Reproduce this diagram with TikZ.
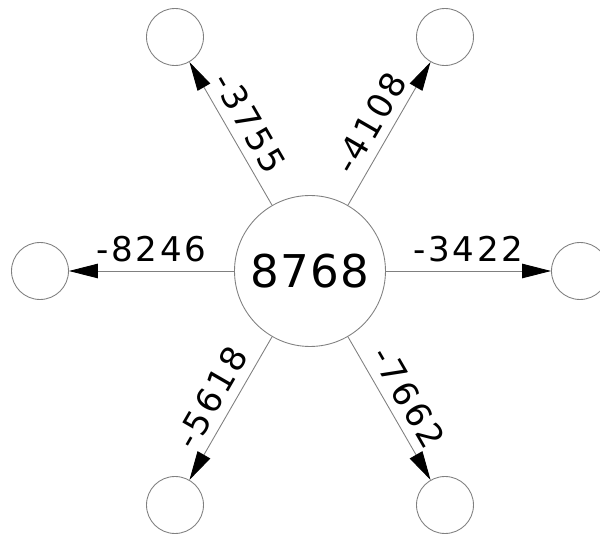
\documentclass[tikz,border=0pt]{standalone}
\usepackage{fontspec}
\setmainfont{DejaVu Sans}
\newfontfamily\hubfont[LetterSpace=3]{DejaVu Sans}
\newfontfamily\wtfont[LetterSpace=8]{DejaVu Sans}
\usetikzlibrary{
    arrows.meta,
    positioning
}
\tikzset{hubc/.style={circle, draw=gray, line width=0.5pt, minimum size=3.02cm, inner sep=0pt, font=\hubfont\fontsize{25.7pt}{30pt}\selectfont}}
\tikzset{leafc/.style={circle, draw=gray, line width=0.5pt, minimum size=1.14cm, inner sep=0pt}}
\tikzset{wt/.style={draw=gray, line width=0.5pt, -{Triangle[length=0.58cm, width=0.29cm, color=black]}}}
\tikzset{wl/.style={midway, sloped, above, inner sep=5pt, font=\wtfont\fontsize{19.4pt}{23pt}\selectfont}}

\begin{document}
\begin{tikzpicture}[x=0.02cm, y=0.02cm]
                        \useasboundingbox (-310, -263) rectangle (290, 271);
                        \node[hubc] (hub) at (0, 0) {8768};
                        \node[leafc] (nn0) at (-135, 234) {};
                        \node[leafc] (nn1) at (135, 234) {};
                        \node[leafc] (nn2) at (270, 0) {};
                        \node[leafc] (nn3) at (135, -234) {};
                        \node[leafc] (nn4) at (-135, -234) {};
                        \node[leafc] (nn5) at (-270, 0) {};

                        \draw
                        (hub) edge[wt] node[wl] {-3755} (nn0)
                        (hub) edge[wt] node[wl] {-4108} (nn1)
                        (hub) edge[wt] node[wl] {-3422} (nn2)
                        (hub) edge[wt] node[wl] {-7662} (nn3)
                        (hub) edge[wt] node[wl] {-5618} (nn4)
                        (hub) edge[wt] node[wl] {-8246} (nn5);
                    \end{tikzpicture}
\end{document}
